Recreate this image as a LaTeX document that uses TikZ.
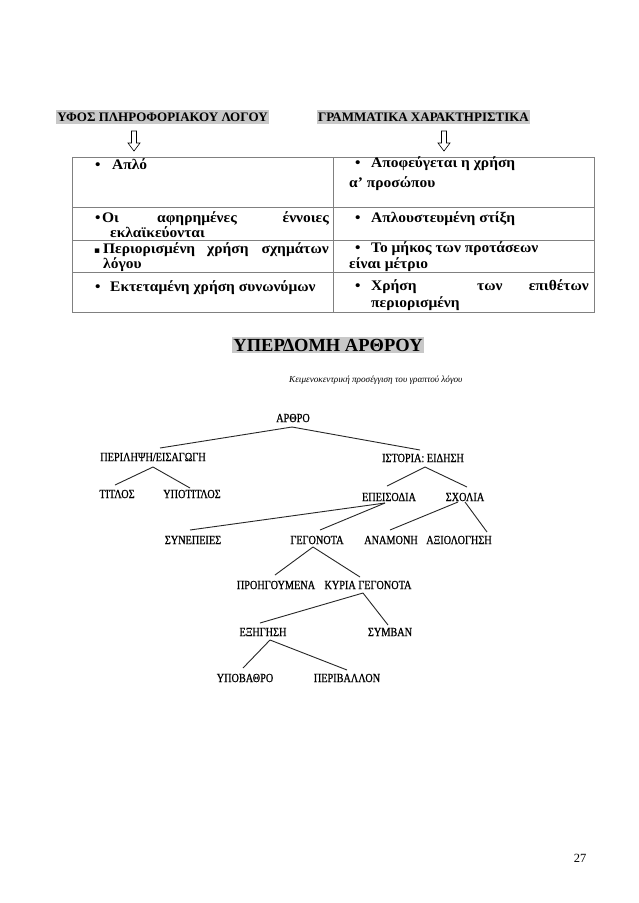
\documentclass[tikz,border=0pt]{standalone}
\usepackage{fontspec}
\setmainfont{Liberation Serif}
\newfontfamily\treefont[FakeStretch=0.82,FakeBold=0.7]{Liberation Serif}
\newfontfamily\cellfont[FakeStretch=1.06]{Liberation Serif Bold}
\newfontfamily\symfont{DejaVu Sans}
\usetikzlibrary{calc}
\definecolor{hl}{HTML}{C8C8C8}
\definecolor{gridc}{HTML}{808080}
\begin{document}
\begin{tikzpicture}[x=1pt,y=-1pt,
  hdr/.style={font=\fontsize{13}{15}\selectfont\bfseries, fill=hl, inner xsep=1pt, inner ysep=2.5pt},
  cell/.style={font=\cellfont\fontsize{14.6}{17}\selectfont, anchor=base west, inner sep=0pt},
  celle/.style={cell, anchor=base east},
  tree/.style={font=\treefont\fontsize{12.5}{14}\selectfont, inner sep=1pt},
  branch/.style={line width=0.9pt, black!85},
  gridline/.style={draw=gridc, line width=0.8pt},
  arrowshape/.style={draw=black, line width=0.6pt, fill=white}]
\useasboundingbox (0,0) rectangle (638,903);
\fill[white] (0,0) rectangle (638,903);

% headers
\node[hdr] (h1) at (162.5,117) {ΥΦΟΣ ΠΛΗΡΟΦΟΡΙΑΚΟΥ ΛΟΓΟΥ};
\node[hdr] (h2) at (423.5,117) {ΓΡΑΜΜΑΤΙΚΑ ΧΑΡΑΚΤΗΡΙΣΤΙΚΑ};

% outline arrows
\coordinate (a1) at (134,131);
\coordinate (a2) at (444,131);
\foreach \a in {a1,a2}{
  \draw[arrowshape] ($(\a)+(-2.5,0)$) -- ($(\a)+(2.5,0)$) -- ($(\a)+(2.5,12)$) -- ($(\a)+(6,12)$)
     -- ($(\a)+(0,20)$) -- ($(\a)+(-6,12)$) -- ($(\a)+(-2.5,12)$) -- cycle;
}

% table
\coordinate (tl) at (72,157);
\coordinate (br) at (594,312);
\draw[gridline] (tl) rectangle (br);
\draw[gridline] (333,157) -- (333,312);
\draw[gridline] (72,207) -- (594,207);
\draw[gridline] (72,240) -- (594,240);
\draw[gridline] (72,272) -- (594,272);

% row 1
\node[cell] (b11) at (95,169) {•};
\node[cell] (t11) at (112,169) {Απλό};
\node[cell] (b12) at (355,167) {•};
\node[cell] (t12) at (371,167) {Αποφεύγεται η χρήση};
\node[cell] (t12b) at (349,187) {α’ προσώπου};
% row 2
\node[cell] (b21) at (95,222) {•};
\node[cell] (t21a) at (102,222) {Οι};
\node[cell] (t21b) at (157,222) {αφηρημένες};
\node[celle] (t21c) at (329,222) {έννοιες};
\node[cell] (t21d) at (110,237) {εκλαϊκεύονται};
\node[cell] (b22) at (355,222) {•};
\node[cell] (t22) at (371,222) {Απλουστευμένη στίξη};
% row 3
\node[cell, font=\symfont\fontsize{9}{11}\selectfont] (b31) at (94,253) {▪};
\node[cell] (t31a) at (103,253) {Περιορισμένη};
\node[cell] (t31b) at (207,253) {χρήση};
\node[celle] (t31c) at (329,253) {σχημάτων};
\node[cell] (t31d) at (103,268) {λόγου};
\node[cell] (b32) at (355,252) {•};
\node[cell] (t32) at (371,252) {Το μήκος των προτάσεων};
\node[cell] (t32b) at (349,268) {είναι μέτριο};
% row 4
\node[cell] (b41) at (95,291) {•};
\node[cell] (t41) at (110,291) {Εκτεταμένη χρήση συνωνύμων};
\node[cell] (b42) at (355,290) {•};
\node[cell] (t42a) at (371,290) {Χρήση};
\node[cell] (t42b) at (477,290) {των};
\node[celle] (t42c) at (589,290) {επιθέτων};
\node[cell] (t42d) at (371,307) {περιορισμένη};

% title
\node[font=\fontsize{18.5}{20}\selectfont\bfseries, fill=hl, inner xsep=1pt, inner ysep=2pt] (title) at (328,345) {ΥΠΕΡΔΟΜΗ ΑΡΘΡΟΥ};

% caption
\node[font=\fontsize{9.2}{11}\selectfont\itshape, anchor=west, inner sep=0pt] (cap) at (289,380) {Κειμενοκεντρική προσέγγιση του γραπτού λόγου};

% tree nodes
\node[tree] (arthro) at (293,418) {ΑΡΘΡΟ};
\node[tree] (perilipsi) at (153,457) {ΠΕΡΙΛΗΨΗ/ΕΙΣΑΓΩΓΗ};
\node[tree] (istoria) at (423,458) {ΙΣΤΟΡΙΑ: ΕΙΔΗΣΗ};
\node[tree] (titlos) at (117,494) {ΤΙΤΛΟΣ};
\node[tree] (ypotitlos) at (192,494) {ΥΠΟΤΙΤΛΟΣ};
\node[tree] (epeisodia) at (389,497) {ΕΠΕΙΣΟΔΙΑ};
\node[tree] (sxolia) at (465,497) {ΣΧΟΛΙΑ};
\node[tree] (synepeies) at (193,540) {ΣΥΝΕΠΕΙΕΣ};
\node[tree] (gegonota) at (317,540) {ΓΕΓΟΝΟΤΑ};
\node[tree] (anamoni) at (391,540) {ΑΝΑΜΟΝΗ};
\node[tree] (axiologisi) at (459,540) {ΑΞΙΟΛΟΓΗΣΗ};
\node[tree] (proigoumena) at (276,585) {ΠΡΟΗΓΟΥΜΕΝΑ};
\node[tree] (kyria) at (368,585) {ΚΥΡΙΑ ΓΕΓΟΝΟΤΑ};
\node[tree] (eksigisi) at (263,632) {ΕΞΗΓΗΣΗ};
\node[tree] (symvan) at (390,632) {ΣΥΜΒΑΝ};
\node[tree] (ypovathro) at (245,678) {ΥΠΟΒΑΘΡΟ};
\node[tree] (perivallon) at (347,678) {ΠΕΡΙΒΑΛΛΟΝ};

% branches
\draw[branch] ($(arthro)+(-1,9)$) -- ($(perilipsi)+(7,-9)$);
\draw[branch] ($(arthro)+(-1,9)$) -- ($(istoria)+(-3,-8)$);
\draw[branch] ($(perilipsi)+(0,10)$) -- ($(titlos)+(-2,-9)$);
\draw[branch] ($(perilipsi)+(0,10)$) -- ($(ypotitlos)+(-2,-6)$);
\draw[branch] ($(istoria)+(2,9)$) -- ($(epeisodia)+(-2,-11)$);
\draw[branch] ($(istoria)+(2,9)$) -- ($(sxolia)+(2,-10)$);
\draw[branch] ($(epeisodia)+(-4,6)$) -- ($(synepeies)+(-3,-10)$);
\draw[branch] ($(epeisodia)+(-4,6)$) -- ($(gegonota)+(3,-10)$);
\draw[branch] ($(sxolia)+(-7,5)$) -- ($(anamoni)+(-1,-10)$);
\draw[branch] ($(sxolia)+(0,5)$) -- ($(axiologisi)+(28,-8)$);
\draw[branch] ($(gegonota)+(-4,7)$) -- ($(proigoumena)+(-1,-10)$);
\draw[branch] ($(gegonota)+(-4,7)$) -- ($(kyria)+(-8,-8)$);
\draw[branch] ($(kyria)+(-5,8)$) -- ($(eksigisi)+(-3,-9)$);
\draw[branch] ($(kyria)+(-5,8)$) -- ($(symvan)+(-2,-7)$);
\draw[branch] ($(eksigisi)+(7,8)$) -- ($(ypovathro)+(-2,-10)$);
\draw[branch] ($(eksigisi)+(7,8)$) -- ($(perivallon)+(0,-8)$);

% page number
\node[font=\fontsize{12.5}{14}\selectfont, inner sep=0pt] (pnum) at (580,858) {27};
\end{tikzpicture}
\end{document}
